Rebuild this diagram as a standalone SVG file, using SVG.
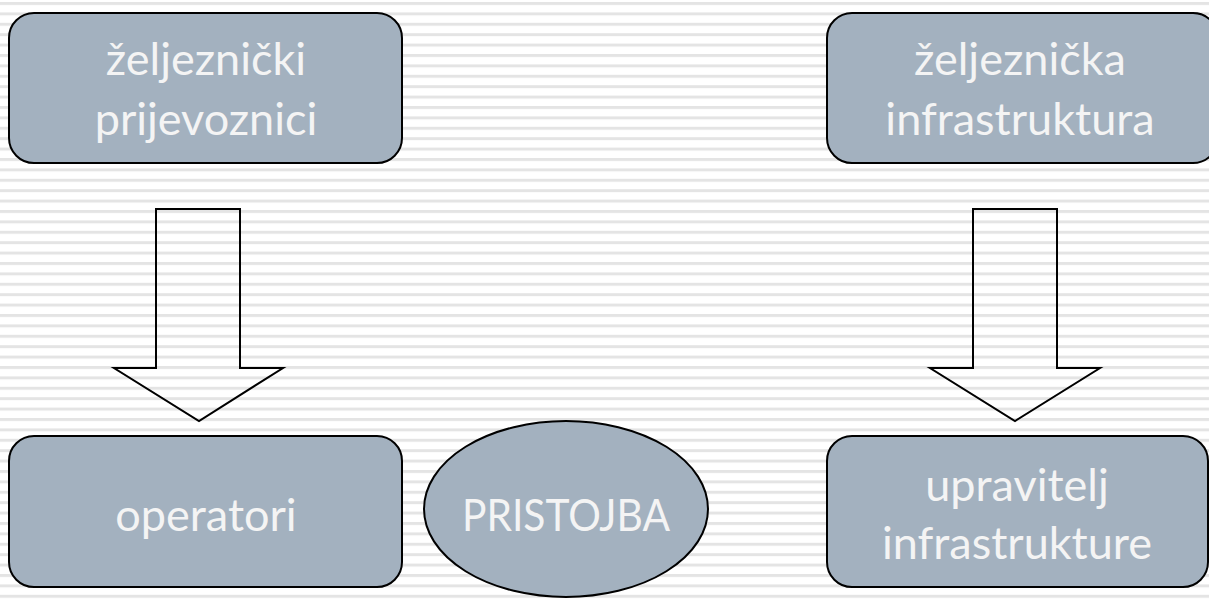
<svg xmlns="http://www.w3.org/2000/svg" width="1209" height="599" viewBox="0 0 1209 599">
  <defs>
    <pattern id="stripes" x="0" y="2" width="40" height="10.4" patternUnits="userSpaceOnUse">
      <rect x="0" y="0" width="40" height="3" fill="#e4e4e4"/>
    </pattern>
  </defs>
  <style>
    .box { fill: #a3b1bf; stroke: #000; stroke-width: 2; }
    .arrow { fill: none; stroke: #000; stroke-width: 2; stroke-linejoin: miter; }
    .lbl { fill: #f4f4f4; font-family: Lato, "Liberation Sans", sans-serif; font-size: 45px; text-anchor: middle; }
  </style>
  <rect x="0" y="0" width="1209" height="599" fill="#ffffff"/>
  <rect x="0" y="0" width="1209" height="599" fill="url(#stripes)"/>

  <g id="connectors">
    <path class="arrow" d="M156,209 H240 V368 H283 L199,421 L114,368 H156 Z"/>
    <path class="arrow" d="M973,209 H1057 V368 H1100 L1015,421 L930,368 H973 Z"/>
  </g>

  <g id="node-prijevoznici">
    <rect class="box" x="9" y="13" width="393" height="150" rx="25" ry="25"/>
    <text class="lbl" x="206" y="75">željeznički</text>
    <text class="lbl" x="206" y="135">prijevoznici</text>
  </g>

  <g id="node-infrastruktura">
    <rect class="box" x="827" y="13" width="391" height="150" rx="25" ry="25"/>
    <text class="lbl" x="1020" y="75">željeznička</text>
    <text class="lbl" x="1020" y="135">infrastruktura</text>
  </g>

  <g id="node-operatori">
    <rect class="box" x="9" y="436" width="393" height="151" rx="25" ry="25"/>
    <text class="lbl" x="206" y="531">operatori</text>
  </g>

  <g id="node-pristojba">
    <ellipse class="box" cx="566" cy="509" rx="142" ry="88"/>
    <text class="lbl" x="566" y="531" textLength="208" lengthAdjust="spacingAndGlyphs">PRISTOJBA</text>
  </g>

  <g id="node-upravitelj">
    <rect class="box" x="827" y="436" width="381" height="151" rx="25" ry="25"/>
    <text class="lbl" x="1017" y="501">upravitelj</text>
    <text class="lbl" x="1017" y="559">infrastrukture</text>
  </g>
</svg>
